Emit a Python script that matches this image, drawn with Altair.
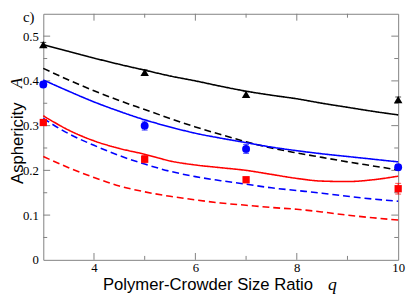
import altair as alt
import pandas as pd

# ---------------- data ----------------
x_grid = [3, 3.5, 4, 4.5, 5, 5.5, 6, 6.5, 7, 7.5, 8, 8.5, 9, 9.5, 10]

black_solid = [0.481, 0.466, 0.451, 0.437, 0.424, 0.411, 0.400, 0.388, 0.377, 0.368, 0.360, 0.350, 0.341, 0.332, 0.324]
black_dashed = [0.428, 0.402, 0.378, 0.356, 0.336, 0.316, 0.297, 0.280, 0.264, 0.250, 0.239, 0.229, 0.219, 0.210, 0.201]
blue_solid = [0.402, 0.377, 0.353, 0.332, 0.313, 0.297, 0.283, 0.272, 0.262, 0.252, 0.244, 0.237, 0.231, 0.225, 0.219]
blue_dashed = [0.316, 0.282, 0.256, 0.233, 0.214, 0.198, 0.186, 0.177, 0.169, 0.161, 0.155, 0.149, 0.142, 0.136, 0.131]
red_solid = [0.322, 0.290, 0.266, 0.249, 0.236, 0.221, 0.212, 0.206, 0.200, 0.191, 0.182, 0.176, 0.175, 0.179, 0.187]
red_dashed = [0.231, 0.206, 0.184, 0.165, 0.152, 0.142, 0.134, 0.127, 0.122, 0.117, 0.113, 0.107, 0.100, 0.094, 0.089]

q_sim = [3, 5, 7, 10]
black_pts = [0.481, 0.419, 0.370, 0.358]
black_err = [0.005, 0.006, 0.006, 0.006]
blue_pts = [0.392, 0.300, 0.248, 0.207]
blue_err = [0.006, 0.010, 0.010, 0.006]
red_pts = [0.307, 0.225, 0.179, 0.159]
red_err = [0.006, 0.008, 0.006, 0.012]

x_label_values = [4, 6, 8, 10]
y_label_values = [0, 0.1, 0.2, 0.3, 0.4, 0.5]
x_major_ticks = [4, 6, 8]
x_minor_ticks = [5, 7, 9]
y_major_ticks = [0.1, 0.2, 0.3, 0.4, 0.5]
y_minor_ticks = [0.05, 0.15, 0.25, 0.35, 0.45]

groups = ["black", "blue", "red"]

# ---------------- tables ----------------
rows = []
for name, grp, style, vals in [
    ("bs", "black", "solid", black_solid),
    ("bd", "black", "dashed", black_dashed),
    ("us", "blue", "solid", blue_solid),
    ("ud", "blue", "dashed", blue_dashed),
    ("rs", "red", "solid", red_solid),
    ("rd", "red", "dashed", red_dashed),
]:
    for xv, yv in zip(x_grid, vals):
        rows.append({"q": xv, "A": yv, "curve": name, "group": grp, "style": style})
lines_df = pd.DataFrame(rows)

prow = []
for grp, vals, errs in [("black", black_pts, black_err), ("blue", blue_pts, blue_err), ("red", red_pts, red_err)]:
    for xv, yv, ev in zip(q_sim, vals, errs):
        prow.append({"q": xv, "A": yv, "lo": yv - ev, "hi": yv + ev, "group": grp})
pts_df = pd.DataFrame(prow)

# ---------------- layout ----------------
W, H = 362, 251
TICK_COLOR = "#808080"
SERIF = "Liberation Serif"
SANS = "Liberation Sans"

xscale = alt.Scale(domain=[3, 10], nice=False, zero=False)
yscale = alt.Scale(domain=[0, 0.55], nice=False, zero=False)

xaxis = alt.Axis(
    values=x_label_values, format="d", labelFont=SERIF, labelFontSize=13,
    labelColor="black", labelPadding=2, labelFlush=False, ticks=False, tickSize=0,
    domain=False, grid=False,
    title="Polymer-Crowder Size Ratio", titleFont=SANS, titleFontSize=17,
    titleFontWeight="normal", titleColor="black", titleX=167.5, titleY=30.5,
    titleAlign="center", titleBaseline="alphabetic",
)
yaxis = alt.Axis(
    values=y_label_values, format=".1~f", labelFont=SERIF, labelFontSize=13,
    labelColor="black", labelPadding=5, ticks=False, tickSize=0, domain=False, grid=False,
    title="Asphericity", titleFont=SANS, titleFontSize=17,
    titleFontWeight="normal", titleColor="black", titleX=-21.5, titleY=131.5,
    titleAngle=270, titleAlign="center", titleBaseline="alphabetic",
)

color_enc = alt.Color("group:N", scale=alt.Scale(domain=groups, range=["#000000", "#0000ff", "#ff0000"]), legend=None)

lines = alt.Chart(lines_df).mark_line(strokeWidth=1.6, interpolate="monotone").encode(
    x=alt.X("q:Q", scale=xscale, axis=xaxis),
    y=alt.Y("A:Q", scale=yscale, axis=yaxis),
    color=color_enc,
    strokeDash=alt.StrokeDash("style:N", scale=alt.Scale(domain=["solid", "dashed"], range=[[1, 0], [7, 4]]), legend=None),
    detail="curve:N",
)

errbars = alt.Chart(pts_df).mark_errorbar(ticks={"size": 6}, thickness=1).encode(
    x=alt.X("q:Q", scale=xscale, axis=xaxis),
    y=alt.Y("lo:Q", scale=yscale, axis=yaxis),
    y2="hi:Q",
    color=color_enc,
)

points = alt.Chart(pts_df).mark_point(filled=True, opacity=1).encode(
    x=alt.X("q:Q", scale=xscale, axis=xaxis),
    y=alt.Y("A:Q", scale=yscale, axis=yaxis),
    color=color_enc,
    shape=alt.Shape("group:N", scale=alt.Scale(domain=groups, range=["triangle-up", "circle", "square"]), legend=None),
    size=alt.Size("group:N", scale=alt.Scale(domain=groups, range=[75, 55, 50]), legend=None),
)


def xticks(vals, length):
    d = pd.DataFrame({"v": vals})
    enc = dict(x=alt.X("v:Q", scale=xscale, axis=xaxis))
    bottom = alt.Chart(d).mark_rule(color=TICK_COLOR, strokeWidth=1).encode(y=alt.value(H), y2=alt.value(H - length), **enc)
    top = alt.Chart(d).mark_rule(color=TICK_COLOR, strokeWidth=1).encode(y=alt.value(0), y2=alt.value(length), **enc)
    return [bottom, top]


def yticks(vals, length):
    d = pd.DataFrame({"v": vals})
    enc = dict(y=alt.Y("v:Q", scale=yscale, axis=yaxis))
    left = alt.Chart(d).mark_rule(color=TICK_COLOR, strokeWidth=1).encode(x=alt.value(0), x2=alt.value(length), **enc)
    right = alt.Chart(d).mark_rule(color=TICK_COLOR, strokeWidth=1).encode(x=alt.value(W), x2=alt.value(W - length), **enc)
    return [left, right]


tick_layers = xticks(x_major_ticks, 7) + xticks(x_minor_ticks, 4) + yticks(y_major_ticks, 7) + yticks(y_minor_ticks, 4)

q_text = alt.Chart(pd.DataFrame({"t": ["q"]})).mark_text(
    font=SERIF, fontStyle="italic", fontSize=18, color="black", align="center", baseline="alphabetic"
).encode(x=alt.value(295), y=alt.value(281.5), text="t:N")

a_text = alt.Chart(pd.DataFrame({"t": ["A"]})).mark_text(
    font=SERIF, fontStyle="italic", fontSize=17, color="black", align="center",
    baseline="alphabetic", angle=270
).encode(x=alt.value(-21.5), y=alt.value(70.5), text="t:N")

panel_text = alt.Chart(pd.DataFrame({"t": ["c)"]})).mark_text(
    font=SERIF, fontSize=15, color="black", align="center", baseline="alphabetic"
).encode(x=alt.value(-15), y=alt.value(8.5), text="t:N")

chart = alt.layer(
    *tick_layers, lines, errbars, points, q_text, a_text, panel_text
).properties(
    width=W, height=H,
    autosize=alt.AutoSizeParams(type="none"),
    padding={"left": 36, "top": 3, "right": 9, "bottom": 35},
).configure_view(
    stroke=TICK_COLOR, strokeWidth=1
)

chart.save("out.html", embed_options={"renderer": "svg", "actions": False})
